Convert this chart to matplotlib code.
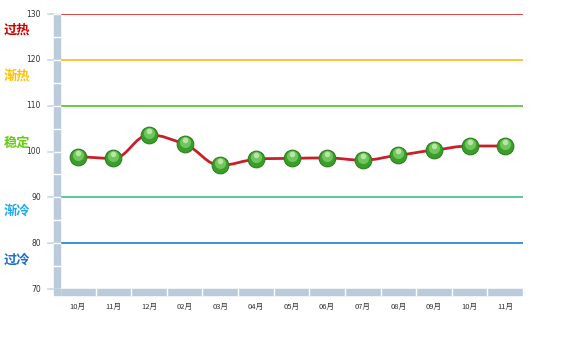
import numpy as np
import matplotlib
matplotlib.use("Agg")
import matplotlib.pyplot as plt
from matplotlib.path import Path
from matplotlib.patches import PathPatch, Rectangle
from matplotlib.transforms import offset_copy, blended_transform_factory

plt.rcParams['font.family'] = ['Noto Sans CJK SC', 'DejaVu Sans']

months = ['10月', '11月', '12月', '02月', '03月', '04月', '05月', '06月', '07月', '08月', '09月', '10月', '11月']
values = [98.8, 98.5, 103.6, 101.6, 97.0, 98.3, 98.5, 98.6, 98.1, 99.2, 100.3, 101.2, 101.2]
levels = [130, 120, 110, 90, 80]
level_colors = ['#dd4444', '#ffc233', '#66cc44', '#55cc99', '#3d8fd6']
zone_names = ['过热', '渐热', '稳定', '渐冷', '过冷']
zone_y = [126.5, 116.5, 102.0, 87.0, 76.5]
zone_colors = ['#cc0000', '#ffc000', '#66cc11', '#22aaee', '#1e6ec8']
yticks = [70, 80, 90, 100, 110, 120, 130]

fig = plt.figure(figsize=(5.72, 3.55), dpi=100)
W, H = 572, 355
ax = fig.add_axes([60 / W, (H - 289) / H, 463 / W, 275 / H])
ax.set_xlim(0, len(months))
ax.set_ylim(70, 130)
for s in ax.spines.values():
    s.set_visible(False)
ax.set_xticks([])
ax.set_yticks([])

for lv, c in zip(levels, level_colors):
    ax.axhline(lv, color=c, lw=1.4, zorder=1)

# smooth line through points (cubic bezier segments)
x = np.arange(len(values)) + 0.5
y = np.array(values)
verts = [(x[0], y[0])]
codes = [Path.MOVETO]
for i in range(len(x) - 1):
    x0, y0 = x[i], y[i]
    x1, y1 = x[i + 1], y[i + 1]
    yp = y[i - 1] if i > 0 else y0
    yn = y[i + 2] if i + 2 < len(y) else y1
    d0 = (y1 - yp) / 2 if i > 0 else 0
    d1 = (yn - y0) / 2 if i + 2 < len(y) else 0
    if (y0 - yp) * (y1 - y0) <= 0 and i > 0:
        d0 = 0
    if (yn - y1) * (y1 - y0) <= 0 and i + 2 < len(y):
        d1 = 0
    verts += [(x0 + 0.4, y0 + d0 * 0.32), (x1 - 0.4, y1 - d1 * 0.32), (x1, y1)]
    codes += [Path.CURVE4, Path.CURVE4, Path.CURVE4]
ax.add_patch(PathPatch(Path(verts, codes), fill=False, edgecolor='#c8202a', lw=2.0, zorder=3))

ax.plot(x, y, 'o', ms=12, mfc='#3a9e2a', mec='#2d7f1e', mew=0.8, zorder=4)
hl = offset_copy(ax.transData, fig=fig, x=0, y=1.5, units='points')
ax.plot(x, y, 'o', ms=8, mfc='#7fd06a', mec='none', alpha=0.8, transform=hl, zorder=5)
hl2 = offset_copy(ax.transData, fig=fig, x=0, y=2.8, units='points')
ax.plot(x, y, 'o', ms=4, mfc='#c8efb8', mec='none', alpha=0.8, transform=hl2, zorder=6)

# left band
bl = blended_transform_factory(fig.transFigure, ax.transData)
ax.add_patch(Rectangle((54 / W, 70), 6 / W, 60, transform=bl, color='#bccbdb', clip_on=False, zorder=2))
for v in range(70, 131, 5):
    ax.plot([54 / W, 60 / W], [v, v], color='white', lw=1.0, transform=bl, clip_on=False, zorder=2.5)
for v in yticks:
    ax.plot([48 / W, 54 / W], [v, v], color='#ccd6e0', lw=1.2, transform=bl, clip_on=False, zorder=2)
    ax.text(41 / W, v, str(v), transform=bl, ha='right', va='center', fontsize=5.5, color='#333333',
            family=['DejaVu Sans'])

# bottom band
bb = blended_transform_factory(ax.transData, fig.transFigure)
ax.add_patch(Rectangle((0, (H - 295) / H), len(months), 6 / H, transform=bb, color='#bccbdb', clip_on=False, zorder=2))
fig.patches.append(Rectangle((54 / W, (H - 295) / H), 6 / W, 6 / H, transform=fig.transFigure, color='#bccbdb'))
for i in range(len(months) + 1):
    ax.plot([i, i], [(H - 295) / H, (H - 289) / H], color='white', lw=1.0, transform=bb, clip_on=False, zorder=2.5)
for i, m in enumerate(months):
    ax.text(i + 0.5, (H - 307) / H, m, transform=bb, ha='center', va='center', fontsize=5.5, color='#333333')

for name, zy, c in zip(zone_names, zone_y, zone_colors):
    ax.text(4 / W, zy, name, transform=bl, ha='left', va='center', fontsize=9.5, fontweight='bold', color=c)

fig.savefig('out.png', dpi=100)
